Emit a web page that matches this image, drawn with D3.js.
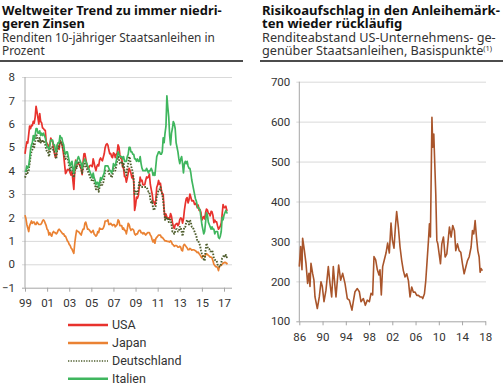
<!DOCTYPE html>
<html><head><meta charset="utf-8">
<script src="https://cdn.jsdelivr.net/npm/d3@7"></script>
<style>
body{margin:0;background:#fff}
svg{display:block}
text{font-family:Roboto,"Noto Sans",sans-serif;fill:#222}
</style></head>
<body><svg id="c" width="503" height="385"></svg>
<script>
// ---------- DATA ----------
const leftStartYear = 1999; // monthly data from Jan 1999
const usa = [
4.72,5.00,5.23,5.18,5.54,5.90,5.79,5.94,5.92,6.11,6.03,6.28,
6.75,6.52,6.26,5.99,6.44,6.10,6.05,5.83,5.80,5.74,5.72,5.24,
5.16,5.10,4.89,5.14,5.39,5.28,5.24,4.97,4.73,4.57,4.65,5.09,
5.04,4.91,5.28,5.21,5.16,4.93,4.65,4.26,3.87,3.94,4.05,4.03,
4.05,3.90,3.81,3.96,3.57,3.20,3.98,4.45,4.27,4.29,4.30,4.27,
4.15,4.08,3.83,4.35,4.72,4.73,4.50,4.28,4.13,4.10,4.19,4.23,
4.22,4.17,4.50,4.34,4.14,4.00,4.18,4.26,4.20,4.46,4.54,4.47,
4.42,4.57,4.72,4.99,5.11,5.15,5.09,4.88,4.72,4.73,4.60,4.56,
4.76,4.72,4.56,4.69,4.75,5.10,5.00,4.67,4.52,4.53,4.15,4.10,
3.74,3.74,3.51,3.68,3.88,4.10,4.01,3.89,3.69,3.81,3.53,2.30,
2.52,2.87,2.82,2.93,3.29,3.72,3.56,3.59,3.40,3.39,3.40,3.59,
3.73,3.69,3.73,3.85,3.42,3.20,3.01,2.70,2.65,2.54,2.76,3.29,
3.39,3.58,3.41,3.46,3.17,3.00,3.00,2.30,1.98,2.15,2.01,1.98,
1.97,1.97,2.17,2.05,1.80,1.62,1.53,1.68,1.72,1.75,1.65,1.72,
1.91,1.98,1.96,1.76,1.93,2.30,2.58,2.80,2.85,2.62,2.75,3.00,
2.86,2.71,2.72,2.71,2.56,2.60,2.54,2.42,2.53,2.30,2.33,2.21,
1.88,1.98,2.04,1.94,2.20,2.36,2.32,2.17,2.17,2.07,2.26,2.24,
2.09,1.78,1.89,1.81,1.81,1.64,1.50,1.56,1.63,1.76,2.14,2.55,
2.43,2.42,2.48,2.30,2.30];
const japan = [
2.10,1.95,1.70,1.55,1.40,1.65,1.75,1.85,1.75,1.80,1.80,1.70,
1.70,1.80,1.75,1.70,1.70,1.70,1.75,1.85,1.90,1.85,1.75,1.65,
1.50,1.45,1.25,1.35,1.25,1.20,1.35,1.40,1.35,1.35,1.30,1.35,
1.45,1.50,1.45,1.40,1.35,1.30,1.30,1.20,1.20,1.10,1.00,0.95,
0.85,0.80,0.70,0.65,0.55,0.47,0.90,1.20,1.45,1.40,1.40,1.35,
1.30,1.25,1.40,1.50,1.50,1.75,1.80,1.65,1.50,1.50,1.45,1.40,
1.35,1.40,1.45,1.30,1.25,1.20,1.25,1.40,1.35,1.55,1.50,1.50,
1.50,1.55,1.65,1.85,1.85,1.85,1.90,1.70,1.70,1.75,1.70,1.65,
1.70,1.70,1.60,1.65,1.70,1.90,1.85,1.65,1.65,1.65,1.50,1.55,
1.45,1.45,1.30,1.50,1.75,1.70,1.55,1.45,1.50,1.50,1.45,1.30,
1.25,1.30,1.30,1.40,1.45,1.45,1.35,1.35,1.30,1.35,1.30,1.25,
1.30,1.35,1.35,1.35,1.25,1.20,1.05,0.95,1.05,0.90,1.10,1.15,
1.20,1.25,1.25,1.25,1.15,1.15,1.10,1.05,1.00,1.00,0.98,0.98,
0.97,0.95,1.00,0.95,0.85,0.83,0.77,0.80,0.80,0.78,0.73,0.73,
0.77,0.73,0.60,0.57,0.80,0.85,0.80,0.75,0.70,0.62,0.62,0.68,
0.65,0.60,0.62,0.62,0.60,0.58,0.54,0.50,0.52,0.45,0.40,0.33,
0.27,0.37,0.35,0.33,0.40,0.45,0.42,0.38,0.35,0.30,0.31,0.27,
0.15,0.00,-0.05,-0.10,-0.10,-0.15,-0.27,-0.10,-0.05,-0.05,0.00,0.05,
0.07,0.08,0.07,0.02,0.04];
const deutschland = [
3.70,3.80,4.00,3.90,4.00,4.30,4.60,4.80,4.90,5.20,5.00,5.20,
5.50,5.50,5.30,5.20,5.40,5.20,5.30,5.20,5.30,5.20,5.10,4.90,
4.80,4.80,4.60,4.80,5.00,5.00,5.00,4.80,4.80,4.60,4.50,4.90,
5.00,5.00,5.30,5.20,5.20,5.00,4.90,4.60,4.50,4.60,4.60,4.40,
4.20,4.00,4.10,4.20,3.90,3.70,4.00,4.20,4.10,4.30,4.40,4.30,
4.20,4.10,3.90,4.10,4.20,4.30,4.20,4.10,4.00,3.90,3.80,3.70,
3.60,3.60,3.70,3.50,3.40,3.20,3.30,3.30,3.10,3.30,3.50,3.40,
3.40,3.50,3.70,4.00,4.00,4.00,4.00,3.90,3.80,3.80,3.70,3.80,
4.10,4.00,4.00,4.20,4.40,4.60,4.50,4.30,4.30,4.40,4.20,4.30,
4.00,4.00,3.80,4.10,4.30,4.60,4.50,4.20,4.10,3.90,3.60,3.00,
3.10,3.10,3.00,3.20,3.50,3.40,3.30,3.30,3.30,3.30,3.30,3.30,
3.30,3.20,3.10,3.10,2.80,2.60,2.70,2.40,2.30,2.40,2.50,2.90,
3.00,3.20,3.20,3.30,3.10,3.00,2.70,2.30,1.90,2.00,1.90,2.00,
1.80,1.90,1.90,1.70,1.40,1.40,1.30,1.40,1.50,1.50,1.40,1.40,
1.60,1.60,1.40,1.20,1.40,1.60,1.60,1.80,1.90,1.80,1.70,1.90,
1.80,1.60,1.60,1.50,1.40,1.30,1.20,1.00,1.00,0.90,0.80,0.60,
0.45,0.35,0.20,0.15,0.60,0.90,0.75,0.65,0.65,0.55,0.55,0.60,
0.50,0.25,0.20,0.15,0.15,0.00,-0.10,-0.10,-0.10,0.05,0.25,0.30,
0.40,0.30,0.40,0.30,0.35];
const italien = [
3.95,4.00,4.20,4.10,4.20,4.50,4.90,5.10,5.20,5.50,5.30,5.50,
5.80,5.80,5.60,5.60,5.70,5.50,5.60,5.50,5.60,5.50,5.40,5.20,
5.00,5.00,4.90,5.10,5.30,5.30,5.30,5.10,5.10,4.90,4.80,5.10,
5.20,5.20,5.50,5.40,5.40,5.20,5.10,4.80,4.70,4.80,4.80,4.60,
4.40,4.20,4.30,4.40,4.10,3.90,4.20,4.40,4.30,4.50,4.60,4.50,
4.40,4.30,4.10,4.30,4.40,4.50,4.40,4.30,4.20,4.10,4.00,3.90,
3.80,3.70,3.90,3.70,3.60,3.40,3.50,3.50,3.30,3.50,3.70,3.60,
3.70,3.80,3.90,4.20,4.20,4.20,4.20,4.10,4.00,4.00,3.90,4.00,
4.30,4.20,4.20,4.40,4.60,4.80,4.70,4.60,4.60,4.60,4.50,4.60,
4.40,4.40,4.40,4.60,4.70,5.00,5.00,4.80,4.80,4.70,4.70,4.50,
4.50,4.40,4.50,4.40,4.40,4.60,4.30,4.10,4.00,4.00,4.00,4.00,
4.10,4.00,3.90,4.00,4.00,4.10,4.00,3.80,3.90,3.80,4.20,4.60,
4.70,4.80,4.80,4.70,4.70,4.80,5.40,5.20,5.60,5.90,7.20,6.70,
6.30,5.50,5.10,5.60,5.80,6.10,6.00,5.80,5.20,5.00,4.80,4.50,
4.30,4.50,4.60,4.30,3.90,4.30,4.40,4.30,4.40,4.20,4.10,4.10,
3.90,3.60,3.40,3.20,3.00,2.80,2.70,2.50,2.40,2.40,2.30,2.00,
1.70,1.50,1.30,1.40,1.80,2.20,2.10,1.80,1.70,1.60,1.50,1.60,
1.50,1.50,1.30,1.40,1.40,1.40,1.15,1.10,1.20,1.40,2.00,1.90,
2.10,2.20,2.30,2.20,2.20];
const leftYTicks = [-1,0,1,2,3,4,5,6,7,8];
const leftXTickYears = [1999,2001,2003,2005,2007,2009,2011,2013,2015,2017];
const leftXTickLabels = ["99","01","03","05","07","09","11","13","15","17"];
const seriesNames = ["USA","Japan","Deutschland","Italien"];

// right chart: US corporate spread, basis points
const spreadYears = [
1986.00,1986.23,1986.46,1986.57,1986.86,1987.15,1987.43,1987.66,1987.84,1988.01,
1988.29,1988.52,1988.70,1989.10,1989.44,1989.73,1989.96,1990.25,1990.59,1990.99,
1991.28,1991.57,1991.85,1992.14,1992.31,1992.77,1993.11,1993.46,1993.86,1994.26,
1994.61,1995.06,1995.29,1995.58,1995.98,1996.33,1996.61,1997.02,1997.36,1997.70,
1998.05,1998.34,1998.62,1998.85,1999.14,1999.43,1999.71,1999.88,2000.11,2000.34,
2000.63,2000.92,2001.20,2001.49,2001.78,2002.01,2002.29,2002.55,2002.75,2003.04,
2003.33,2003.62,2003.90,2004.19,2004.48,2004.77,2005.05,2005.34,2005.63,2005.92,
2006.21,2006.49,2006.78,2007.07,2007.24,2007.53,2007.76,2007.99,2008.22,2008.39,
2008.56,2008.82,2008.97,2009.14,2009.25,2009.48,2009.66,2009.83,2010.06,2010.29,
2010.52,2010.80,2011.09,2011.38,2011.66,2011.83,2012.12,2012.40,2012.69,2012.92,
2013.21,2013.50,2013.78,2014.07,2014.36,2014.65,2014.93,2015.22,2015.56,2015.79,
2016.02,2016.25,2016.48,2016.71,2016.94,2017.11,2017.28,2017.51];
const spreadValues = [
237,287,229,308,279,245,195,220,187,245,
220,203,161,132,161,199,187,149,178,237,
195,161,237,187,161,241,203,220,195,157,
153,128,149,174,182,174,149,157,140,153,
149,170,166,262,254,229,216,229,166,237,
254,271,296,271,346,304,283,340,375,336,
286,252,227,211,219,202,161,186,173,173,
165,165,161,161,157,169,202,252,302,344,
311,611,536,569,519,419,302,294,269,244,
294,311,261,269,311,336,311,340,327,277,
294,277,273,244,219,236,252,261,286,327,
319,352,311,277,261,223,232,227];
const rightYTicks = [100,200,300,400,500,600,700];
const rightXTickYears = [1986,1990,1994,1998,2002,2006,2010,2014,2018];
const rightXTickLabels = ["86","90","94","98","02","06","10","14","18"];

// ---------- STYLE ----------
const colors = {USA:"#e8322d", Japan:"#ea8233", Deutschland:"#4e5d2c", Italien:"#3fb65e"};
const spreadColor = "#a9552b";
const gridColor = "#d9d9d9", axisColor = "#a6a6a6";
const FONT = 'Roboto,"Noto Sans",sans-serif';
const HEAD_FONT = '"Noto Sans",sans-serif';

const svg = d3.select("#c");

// ---------- HEADERS ----------
// fitBold / fitReg: target widths (px) of the first bold and first regular line
function header(x, lines, fitBold, fitReg, ruleW) {
  const g = svg.append("g");
  const nodes = lines.map(l => {
    const t = g.append("text").attr("x", x).attr("y", l.y)
      .style("font-family", HEAD_FONT)
      .style("font-size", l.bold ? "13.5px" : "12.5px")
      .style("font-weight", l.bold ? "bold" : "normal")
      .style("fill", l.bold ? "#111" : "#333");
    const main = t.append("tspan").text(l.text);
    if (l.sup) t.append("tspan").text(l.sup).attr("dy", -4).style("font-size", "7.5px");
    return {t, main, l};
  });
  const b = nodes.find(n => n.l.bold), r = nodes.find(n => !n.l.bold);
  const bs = 13.5 * fitBold / b.main.node().getComputedTextLength();
  const rs = 12.5 * fitReg / r.main.node().getComputedTextLength();
  nodes.forEach(n => n.t.style("font-size", (n.l.bold ? bs : rs) + "px"));
  g.append("line").attr("x1", x - 2).attr("x2", x - 2 + ruleW).attr("y1", 61).attr("y2", 61)
    .attr("stroke", "#111").attr("stroke-width", 1.3);
}
header(2, [
  {text:"Weltweiter Trend zu immer niedri-", y:15, bold:true},
  {text:"geren Zinsen", y:28, bold:true},
  {text:"Renditen 10-jähriger Staatsanleihen in", y:42},
  {text:"Prozent", y:55}], 220, 213, 243);
header(262, [
  {text:"Risikoaufschlag in den Anleihemärk-", y:15, bold:true},
  {text:"ten wieder rückläufig", y:28, bold:true},
  {text:"Renditeabstand US-Unternehmens- ge-", y:42},
  {text:"genüber Staatsanleihen, Basispunkte", y:55, sup:"(1)"}], 238, 234, 243);

// ---------- AXES HELPERS ----------
function yGrid(scale, ticks, x0, x1, pad) {
  const ax = svg.append("g").attr("transform", `translate(${x0},0)`)
    .call(d3.axisLeft(scale).tickValues(ticks).tickSize(-(x1 - x0)).tickPadding(pad));
  ax.select(".domain").remove();
  ax.selectAll(".tick line").attr("x1", -3).attr("stroke", gridColor);
  ax.selectAll(".tick").filter(d => d === ticks[0]).select("line").attr("stroke", axisColor);
  ax.selectAll(".tick text").style("font-size", "11.5px").style("fill", "#333")
    .style("font-family", FONT);
  svg.append("line").attr("x1", x0).attr("x2", x0)
    .attr("y1", scale.range()[1]).attr("y2", scale.range()[0]).attr("stroke", axisColor);
}
function xAxis(scale, vals, labels, y, pad) {
  const ax = svg.append("g").attr("transform", `translate(0,${y})`)
    .call(d3.axisBottom(scale).tickValues(vals).tickFormat((d, i) => labels[i])
      .tickSize(4).tickSizeOuter(0).tickPadding(pad));
  ax.select(".domain").remove();
  ax.selectAll(".tick line").attr("stroke", axisColor);
  ax.selectAll(".tick text").style("font-size", "11.5px").style("fill", "#333")
    .style("font-family", FONT);
}

// ---------- LEFT CHART ----------
const L = {x0:25, x1:232, y0:77, y1:287.7};
const xL = d3.scaleLinear().domain([1999, 2017]).range([25, 224]);
const yL = d3.scaleLinear().domain([-1, 8]).range([L.y1, L.y0]);
yGrid(yL, leftYTicks, L.x0, L.x1, 10);
xAxis(xL, leftXTickYears, leftXTickLabels, L.y1, 7.3);

const seriesData = {USA:usa, Japan:japan, Deutschland:deutschland, Italien:italien};
const lineL = d3.line().x((d, i) => xL(leftStartYear + i / 12)).y(d => yL(d));
seriesNames.forEach(name => {
  const p = svg.append("path").datum(seriesData[name]).attr("d", lineL)
    .attr("fill", "none").attr("stroke", colors[name])
    .attr("stroke-width", name === "Deutschland" ? 1.9 : 1.7)
    .attr("stroke-linejoin", "round");
  if (name === "Deutschland") p.attr("stroke-dasharray", "1.6 1.4");
});

// legend
const legY = [325, 343, 361, 378.7];
seriesNames.forEach((name, i) => {
  svg.append("line").attr("x1", 68).attr("x2", 108).attr("y1", legY[i]).attr("y2", legY[i])
    .attr("stroke", colors[name]).attr("stroke-width", name === "Deutschland" ? 1.6 : 2.6)
    .attr("stroke-dasharray", name === "Deutschland" ? "1.3 1.3" : null);
  svg.append("text").attr("x", 112).attr("y", legY[i] + 4.3).text(name)
    .style("font-size", "12.5px").style("fill", "#333");
});

// ---------- RIGHT CHART ----------
const R = {x0:299.3, x1:486, y0:81.7, y1:321.3};
const xR = d3.scaleLinear().domain([1986, 2018]).range([299.3, 485.3]);
const yR = d3.scaleLinear().domain([100, 700]).range([R.y1, R.y0]);
yGrid(yR, rightYTicks, R.x0, R.x1, 9);
xAxis(xR, rightXTickYears, rightXTickLabels, R.y1, 7.2);

const spread = spreadYears.map((t, i) => ({t, v: spreadValues[i]}));
svg.append("path").datum(spread)
  .attr("d", d3.line().x(d => xR(d.t)).y(d => yR(d.v)))
  .attr("fill", "none").attr("stroke", spreadColor).attr("stroke-width", 1.6)
  .attr("stroke-linejoin", "round");
</script></body></html>
